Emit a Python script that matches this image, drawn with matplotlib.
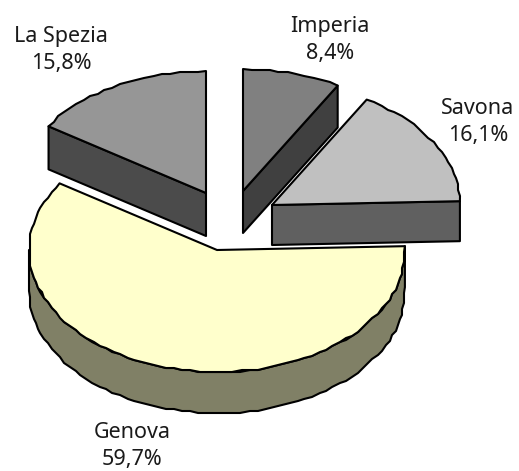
import numpy as np
import matplotlib
matplotlib.use("Agg")
import matplotlib.pyplot as plt
from matplotlib.patches import Polygon

# Data (clockwise from 12 o'clock)
categories = ["Imperia", "Savona", "Genova", "La Spezia"]
shares = [8.4, 16.1, 59.7, 15.8]
share_labels = ["8,4%", "16,1%", "59,7%", "15,8%"]

# Styling / layout
top_colors = ["#808080", "#c0c0c0", "#ffffcc", "#969696"]
side_colors = ["#404040", "#606060", "#808066", "#4b4b4b"]
apexes = [(243, 191), (272, 205), (217, 250), (206, 193)]
depths = [42, 40, 41, 43]
label_pos = [(330, 40), (478, 122), (132, 446), (61, 50)]
RX, RY = 188, 122
EDGE = "#000000"
LW = 1.5
FONT = "Noto Sans"
GRID = 2.0  # the original's rim is a slightly stair-stepped outline

fig = plt.figure(figsize=(5.19, 4.71), dpi=100)
ax = fig.add_axes([0, 0, 1, 1])
ax.set_xlim(0, 519)
ax.set_ylim(471, 0)
ax.axis("off")


def rim(apex, a0, a1):
    n = max(int(abs(a1 - a0) / 2.5), 4)
    t = np.radians(np.linspace(a0, a1, n))
    pts = np.column_stack([apex[0] + RX * np.cos(t), apex[1] - RY * np.sin(t)])
    snapped = np.round(pts / GRID) * GRID
    snapped[0], snapped[-1] = pts[0], pts[-1]
    return snapped


def poly(pts, color, z):
    ax.add_patch(Polygon(pts, closed=True, facecolor=color, edgecolor=EDGE,
                         linewidth=LW, joinstyle="round", zorder=z))


# slice angles come from the values
total = sum(shares)
ends = 90 - np.cumsum(shares) / total * 360
starts = np.concatenate([[90], ends[:-1]])
order = {"Imperia": 1, "La Spezia": 2, "Savona": 3, "Genova": 4}

for i, name in enumerate(categories):
    apex = np.array(apexes[i], float)
    z = order[name] * 10
    arc = rim(apex, starts[i], ends[i])
    down = np.array([0, depths[i]])
    if name in ("Imperia", "Savona"):
        edge = np.array([apex, arc[-1]])
        poly(np.vstack([edge, edge[::-1] + down]), side_colors[i], z)
    elif name == "La Spezia":
        edge = np.array([apex, arc[0]])
        poly(np.vstack([edge, edge[::-1] + down]), side_colors[i], z)
    else:
        front = rim(apex, starts[i], -180)
        poly(np.vstack([front, front[::-1] + down]), side_colors[i], z)
    poly(np.vstack([apex, arc]), top_colors[i], z + 1)
    ax.text(label_pos[i][0], label_pos[i][1], f"{name}\n{share_labels[i]}",
            ha="center", va="center", fontsize=15.5, family=FONT,
            color="#1a1a1a", linespacing=1.42, zorder=100)

fig.savefig("out.png", dpi=100, facecolor="white")
